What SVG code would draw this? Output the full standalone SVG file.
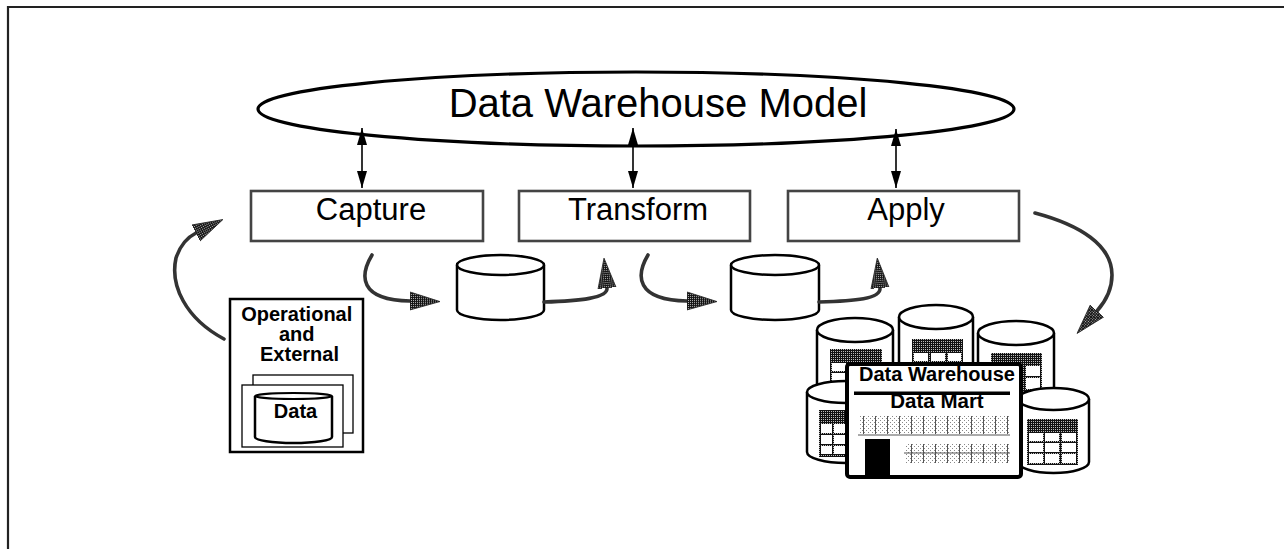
<svg xmlns="http://www.w3.org/2000/svg" width="1284" height="549" viewBox="0 0 1284 549">
  <defs>
    <!-- dark halftone used for headers and arrowheads -->
    <pattern id="dk" width="2" height="2" patternUnits="userSpaceOnUse">
      <rect width="2" height="2" fill="#111"/>
      <rect x="1" y="1" width="1" height="1" fill="#bbb"/>
    </pattern>
    <!-- light halftone with vertical rules for the building windows -->
    <pattern id="lt" width="12" height="4" patternUnits="userSpaceOnUse">
      <rect width="12" height="4" fill="#fff"/>
      <rect x="0" y="0" width="1" height="1" fill="#888"/>
      <rect x="2" y="2" width="1" height="1" fill="#888"/>
      <rect x="4" y="0" width="1" height="1" fill="#888"/>
      <rect x="6" y="2" width="1" height="1" fill="#888"/>
      <rect x="8" y="0" width="1" height="1" fill="#888"/>
      <rect x="10" y="2" width="1" height="1" fill="#888"/>
      <rect x="11" y="0" width="1" height="4" fill="#555"/>
    </pattern>
    <marker id="big" markerUnits="userSpaceOnUse" markerWidth="32" markerHeight="22" viewBox="0 -11 32 22" refX="0" refY="0" orient="auto">
      <path d="M0,-9 L30,0 L0,9 Z" fill="url(#dk)" stroke="#222" stroke-width="0.8"/>
    </marker>
    <marker id="tip" markerUnits="userSpaceOnUse" markerWidth="18" markerHeight="12" viewBox="0 -6 18 12" refX="17" refY="0" orient="auto-start-reverse">
      <path d="M0,-5 L17,0 L0,5 Z" fill="#000"/>
    </marker>
  </defs>
  <style>
    .lbl { font-family: "Liberation Sans", Arial, sans-serif; fill: #000; }
    .b { font-weight: bold; }
    .step { fill: #fff; stroke: #444; stroke-width: 2.6; }
    .cyl { fill: #fff; stroke: #000; stroke-width: 2.5; }
    .flow { fill: none; stroke: #333; stroke-width: 3.6; stroke-linecap: round; marker-end: url(#big); }
    .link { fill: none; stroke: #000; stroke-width: 1.6; marker-start: url(#tip); marker-end: url(#tip); }
    .cell { fill: #fff; }
  </style>

  <!-- page frame -->
  <path d="M8,549 V7 H1284" fill="none" stroke="#222" stroke-width="2.2"/>

  <g id="model">
    <ellipse cx="636" cy="109" rx="378" ry="37" fill="#fff" stroke="#000" stroke-width="3.2"/>
    <text class="lbl" x="658" y="117" font-size="40" text-anchor="middle">Data Warehouse Model</text>
  </g>

  <g id="capture">
    <rect class="step" x="251" y="191" width="232" height="50"/>
    <text class="lbl" x="371" y="220" font-size="31" text-anchor="middle">Capture</text>
  </g>
  <g id="transform">
    <rect class="step" x="519" y="191" width="231" height="50"/>
    <text class="lbl" x="638" y="220" font-size="31" text-anchor="middle">Transform</text>
  </g>
  <g id="apply">
    <rect class="step" x="788" y="191" width="231" height="50"/>
    <text class="lbl" x="906" y="220" font-size="31" text-anchor="middle">Apply</text>
  </g>

  <g id="stage1">
    <path class="cyl" d="M457,265 V310 A43.5,10 0 0 0 544,310 V265"/>
    <ellipse class="cyl" cx="500.5" cy="265" rx="43.5" ry="10"/>
  </g>
  <g id="stage2">
    <path class="cyl" d="M731,265 V310 A44,10 0 0 0 819,310 V265"/>
    <ellipse class="cyl" cx="775" cy="265" rx="44" ry="10"/>
  </g>

  <g id="source">
    <rect x="230" y="299" width="133" height="153" fill="#fff" stroke="#000" stroke-width="2.5"/>
    <text class="lbl b" font-size="20" text-anchor="middle">
      <tspan x="299.5" y="321">Operational</tspan>
      <tspan x="299.5" y="341">and</tspan>
      <tspan x="299.5" y="361">External</tspan>
    </text>
    <rect x="253" y="375" width="100" height="58" fill="#fff" stroke="#000" stroke-width="1.3"/>
    <rect x="242" y="385" width="101" height="62" fill="#fff" stroke="#000" stroke-width="1.3"/>
    <path d="M255,396 V437 A38.5,6 0 0 0 332,437 V396" fill="#fff" stroke="#000" stroke-width="2.5"/>
    <ellipse cx="293.5" cy="396" rx="38.5" ry="3" fill="#fff" stroke="#000" stroke-width="2"/>
    <text class="lbl b" x="295.5" y="418" font-size="20" text-anchor="middle">Data</text>
  </g>

  <g id="warehouse">
    <!-- back row of stores -->
    <path class="cyl" d="M817,330 V430 A38,12 0 0 0 893,430 V330"/>
    <ellipse class="cyl" cx="855" cy="330" rx="38" ry="12"/>
    <rect x="830" y="349" width="52" height="36" fill="url(#dk)"/>
    <rect class="cell" x="832" y="363" width="14" height="8"/>
    <rect class="cell" x="849" y="363" width="15" height="8"/>
    <rect class="cell" x="866" y="363" width="14" height="8"/>
    <rect class="cell" x="832" y="373" width="14" height="8"/>
    <rect class="cell" x="849" y="373" width="15" height="8"/>
    <rect class="cell" x="866" y="373" width="14" height="8"/>

    <path class="cyl" d="M899,317 V420 A37,12 0 0 0 973,420 V317"/>
    <ellipse class="cyl" cx="936" cy="317" rx="37" ry="12"/>
    <rect x="912" y="339" width="51" height="31" fill="url(#dk)"/>
    <rect class="cell" x="914" y="353" width="14" height="8"/>
    <rect class="cell" x="931" y="353" width="14" height="8"/>
    <rect class="cell" x="948" y="353" width="13" height="8"/>

    <path class="cyl" d="M978,333 V430 A38,12 0 0 0 1054,430 V333"/>
    <ellipse class="cyl" cx="1016" cy="333" rx="38" ry="12"/>
    <rect x="991" y="353" width="51" height="39" fill="url(#dk)"/>
    <rect class="cell" x="993" y="366" width="14" height="10"/>
    <rect class="cell" x="1009" y="366" width="14" height="10"/>
    <rect class="cell" x="1026" y="366" width="14" height="10"/>
    <rect class="cell" x="993" y="378" width="14" height="11"/>
    <rect class="cell" x="1009" y="378" width="14" height="11"/>
    <rect class="cell" x="1026" y="378" width="14" height="11"/>

    <!-- front row of stores -->
    <path class="cyl" d="M807,392 V452 A39,11 0 0 0 885,452 V392"/>
    <ellipse class="cyl" cx="846" cy="392" rx="39" ry="11"/>
    <rect x="819" y="410" width="51" height="47" fill="url(#dk)"/>
    <rect class="cell" x="821" y="424" width="11" height="9"/>
    <rect class="cell" x="834" y="424" width="12" height="9"/>
    <rect class="cell" x="821" y="435" width="11" height="9"/>
    <rect class="cell" x="834" y="435" width="12" height="9"/>
    <rect class="cell" x="821" y="446" width="11" height="8"/>
    <rect class="cell" x="834" y="446" width="12" height="8"/>

    <path class="cyl" d="M1018,399 V462 A35.5,11 0 0 0 1089,462 V399"/>
    <ellipse class="cyl" cx="1053.5" cy="399" rx="35.5" ry="11"/>
    <rect x="1027" y="419" width="51" height="46" fill="url(#dk)"/>
    <rect class="cell" x="1029" y="433" width="14" height="8"/>
    <rect class="cell" x="1045" y="433" width="14" height="8"/>
    <rect class="cell" x="1062" y="433" width="14" height="8"/>
    <rect class="cell" x="1029" y="443" width="14" height="9"/>
    <rect class="cell" x="1045" y="443" width="14" height="9"/>
    <rect class="cell" x="1062" y="443" width="14" height="9"/>
    <rect class="cell" x="1029" y="454" width="14" height="9"/>
    <rect class="cell" x="1045" y="454" width="14" height="9"/>
    <rect class="cell" x="1062" y="454" width="14" height="9"/>

    <!-- building board in front -->
    <rect x="847" y="364" width="174" height="113" rx="3" fill="#fff" stroke="#000" stroke-width="4"/>
    <text class="lbl b" x="937" y="381" font-size="20" text-anchor="middle">Data Warehouse</text>
    <rect x="854" y="391.5" width="156" height="3.5" fill="#000"/>
    <text class="lbl b" x="937" y="408" font-size="20.5" text-anchor="middle">Data Mart</text>
    <rect x="860" y="416" width="150" height="18" fill="url(#lt)"/>
    <line x1="858" y1="435" x2="1010" y2="435" stroke="#555" stroke-width="1"/>
    <rect x="865" y="439" width="25" height="36" fill="#000"/>
    <rect x="905" y="444" width="105" height="19" fill="url(#lt)"/>
    <line x1="904" y1="453" x2="1010" y2="453" stroke="#555" stroke-width="1"/>
  </g>

  <g id="connectors">
    <line class="link" x1="362" y1="128" x2="362" y2="188"/>
    <line class="link" x1="633" y1="128" x2="633" y2="188"/>
    <line class="link" x1="896" y1="129" x2="896" y2="188"/>
    <path class="flow" d="M224,339 C185,318 170,285 176,258 C180,246 186,238 196,233"/>
    <path class="flow" d="M372,255 C360,275 358,300 410,301"/>
    <path class="flow" d="M544,302 C580,301 608,298 607,288"/>
    <path class="flow" d="M648,255 C636,275 635,300 687,301"/>
    <path class="flow" d="M819,302 C855,301 881,299 880,288"/>
    <path class="flow" d="M1035,213 C1080,225 1112,245 1112,275 C1112,290 1105,302 1097,311"/>
  </g>
</svg>
